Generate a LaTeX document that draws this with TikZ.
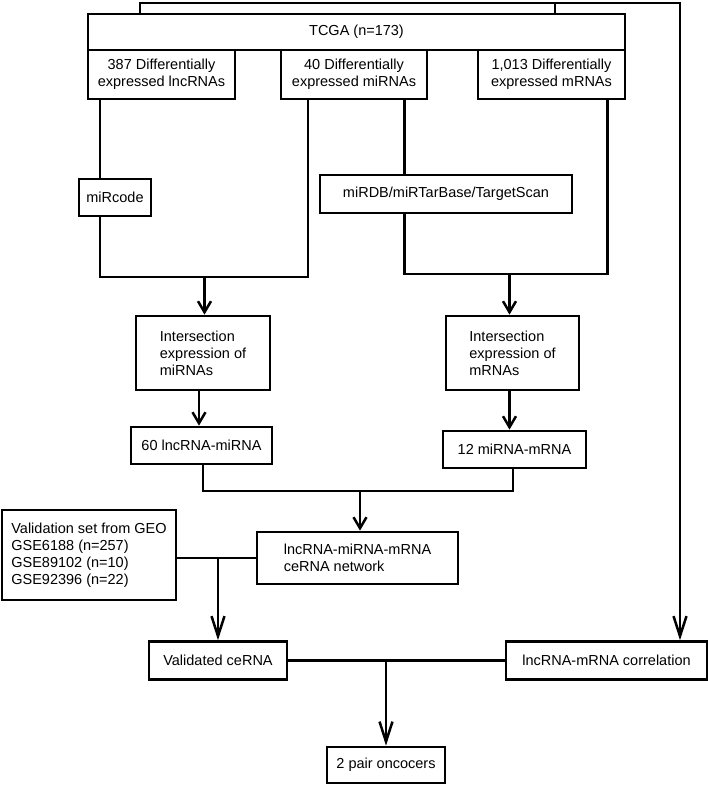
\documentclass[tikz,border=0pt]{standalone}
\usepackage{fontspec}
\setmainfont{Liberation Sans}
\usetikzlibrary{arrows.meta}

\begin{document}
\begin{tikzpicture}[x=1pt,y=-1pt,
	box/.style={draw,line width=2.7pt,align=center,inner sep=2pt,font=\fontsize{14.5}{17}\selectfont},
	lbox/.style={box,align=left},
	line/.style={line width=2.5pt},
	arr/.style={line width=2.5pt,-{Straight Barb[length=11pt,width=13pt,line width=2.5pt]}},
	longarr/.style={line width=2.5pt,-{Straight Barb[length=20pt,width=13pt,line width=2.5pt]}}]
\useasboundingbox (0,0) rectangle (708,785);
% top row
\node[box,minimum width=537pt,minimum height=36pt] (tcga) at (356.5,32) {TCGA (n=173)};
\node[box,minimum width=147pt,minimum height=49pt] (lnc) at (161.5,74.5) {387 Differentially\\expressed lncRNAs};
\node[box,minimum width=146pt,minimum height=49pt] (mir) at (354,74.5) {40 Differentially\\expressed miRNAs};
\node[box,minimum width=147pt,minimum height=49pt] (mrna) at (551.5,74.5) {1,013 Differentially\\expressed mRNAs};
% prediction tools
\node[box,minimum width=72pt,minimum height=37pt] (mircode) at (115,197.5) {miRcode};
\node[box,minimum width=252pt,minimum height=38pt] (mirdb) at (446,194) {miRDB/miRTarBase/TargetScan};
% intersections
\node[lbox,minimum width=134pt,minimum height=74pt] (interA) at (203,353) {Intersection\\expression of\\miRNAs};
\node[lbox,minimum width=133pt,minimum height=74pt] (interB) at (512.5,353) {Intersection\\expression of\\mRNAs};
\node[box,minimum width=141pt,minimum height=37pt] (pairA) at (201.5,445.5) {60 lncRNA-miRNA};
\node[box,minimum width=143pt,minimum height=37pt] (pairB) at (514.5,449.5) {12 miRNA-mRNA};
% network and validation
\node[lbox,minimum width=201pt,minimum height=52pt] (cerna) at (357.5,558) {lncRNA-miRNA-mRNA\\ceRNA network};
\node[lbox,minimum width=174pt,minimum height=90pt] (valset) at (89,555) {Validation set from GEO\\GSE6188 (n=257)\\GSE89102 (n=10)\\GSE92396 (n=22)};
\node[box,minimum width=138pt,minimum height=38pt] (valid) at (218,660.5) {Validated ceRNA};
\node[box,minimum width=201pt,minimum height=38pt] (corr) at (606.5,660.5) {lncRNA-mRNA correlation};
\node[box,minimum width=118pt,minimum height=36pt] (onco) at (386,765) {2 pair oncocers};
% bends
\coordinate (tl) at (140,3);
\coordinate (tm) at (555,3);
\coordinate (tr) at (680,3);
\coordinate (xa) at (100,0);
\coordinate (xb) at (308,0);
\coordinate (xc) at (404.5,0);
\coordinate (xd) at (607.5,0);
\coordinate (jl) at (204.5,277);
\coordinate (jr) at (509.5,274);
\coordinate (jm) at (360,491);
% connectors
\draw[longarr] (tcga.north -| tl) -- (tl) -- (tr) -- (corr.north -| tr);
\draw[line] (tm) -- (tcga.north -| tm);
\draw[line] (lnc.south -| xa) -- (mircode.north -| xa);
\draw[line] (mircode.south -| xa) |- (jl) -| (mir.south -| xb);
\draw[line] (mir.south -| xc) -- (mirdb.north -| xc);
\draw[line] (mirdb.south -| xc) |- (jr) -| (mrna.south -| xd);
\draw[arr] (jl) -- (jl |- interA.north);
\draw[arr] (jr) -- (jr |- interB.north);
\draw[arr] (interA.south -| 199,0) -- (pairA.north -| 199,0);
\draw[arr] (interB.south -| jr) -- (pairB.north -| jr);
\draw[line] (pairA.south -| 203,0) |- (jm) -| (pairB.south -| 513,0);
\draw[arr] (jm) -- (jm |- cerna.north);
\draw[line] (valset.east |- cerna.west) -- (cerna.west);
\draw[longarr] (valid.north |- cerna.west) -- (valid.north);
\draw[line] (valid.east) -- (corr.west);
\draw[longarr] (onco.north |- valid.east) -- (onco.north);
\end{tikzpicture}
\end{document}
